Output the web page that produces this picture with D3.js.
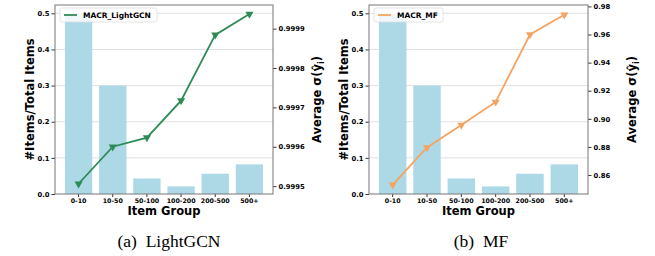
<!DOCTYPE html>
<html>
<head>
<meta charset="utf-8">
<script src="https://cdn.jsdelivr.net/npm/d3@7"></script>
<style>
  body { margin: 0; background: #fff; }
  text { font-family: "DejaVu Sans", sans-serif; }
  .tick text { font-weight: bold; font-size: 6.8px; fill: #000; }
  .xaxis .tick text { font-size: 6.3px; }
  .caption { font-family: "Liberation Serif", "DejaVu Serif", serif; font-size: 17.5px; }
</style>
</head>
<body>
<div id="chart"></div>
<script>
// Data
var groups = ["0-10", "10-50", "50-100", "100-200", "200-500", "500+"];
var itemShare = [0.498, 0.300, 0.043, 0.021, 0.056, 0.082];
var lightgcnScore = [0.999506, 0.999600, 0.999623, 0.999717, 0.999884, 0.999937];
var mfScore = [0.853, 0.8796, 0.8956, 0.912, 0.960, 0.974];
var shareTicks = [0.0, 0.1, 0.2, 0.3, 0.4, 0.5];
var lightgcnTicks = [0.9995, 0.9996, 0.9997, 0.9998, 0.9999];
var mfTicks = [0.86, 0.88, 0.90, 0.92, 0.94, 0.96, 0.98];

var svgWidth = 655;
var svgHeight = 256;

var svg = d3.select("#chart")
  .append("svg")
  .attr("width", svgWidth)
  .attr("height", svgHeight);

// one panel = bars on the left axis, line on the right axis
function drawPanel(opt) {
  var left = opt.left, right = opt.right, top = 5, bottom = 194;
  var g = svg.append("g");

  var x = d3.scaleBand()
    .domain(groups)
    .range([left, right])
    .paddingInner(0.2)
    .paddingOuter(0.29);

  var yShare = d3.scaleLinear().domain([0, 0.523]).range([bottom, top]);
  var yScore = d3.scaleLinear().domain(opt.scoreDomain).range([bottom, top]);

  // grid lines on the left ticks
  g.selectAll(".grid")
    .data(shareTicks.slice(1))
    .enter()
    .append("line")
    .attr("x1", left).attr("x2", right)
    .attr("y1", d => yShare(d)).attr("y2", d => yShare(d))
    .attr("stroke", "#d9d9d9")
    .attr("stroke-width", 0.8);

  // bars
  g.selectAll(".bar")
    .data(itemShare)
    .enter()
    .append("rect")
    .attr("x", (d, i) => x(groups[i]))
    .attr("y", d => yShare(d))
    .attr("width", x.bandwidth())
    .attr("height", d => bottom - yShare(d))
    .attr("fill", "#add8e6");

  // line + down triangles
  var line = d3.line()
    .x((d, i) => x(groups[i]) + x.bandwidth() / 2)
    .y(d => yScore(d));

  g.append("path")
    .datum(opt.score)
    .attr("d", line)
    .attr("fill", "none")
    .attr("stroke", opt.color)
    .attr("stroke-width", 1.8);

  g.selectAll(".mark")
    .data(opt.score)
    .enter()
    .append("path")
    .attr("d", d3.symbol().type(d3.symbolTriangle).size(28))
    .attr("transform", (d, i) => `translate(${x(groups[i]) + x.bandwidth() / 2}, ${yScore(d)}) rotate(180)`)
    .attr("fill", opt.color);

  // axes
  var xAxis = g.append("g")
    .attr("class", "xaxis")
    .attr("transform", `translate(0, ${bottom})`)
    .call(d3.axisBottom(x).tickSize(3).tickPadding(2));
  xAxis.select(".domain").remove();

  var lAxis = g.append("g")
    .attr("transform", `translate(${left}, 0)`)
    .call(d3.axisLeft(yShare).tickValues(shareTicks).tickFormat(d3.format(".1f")).tickSize(3.5).tickPadding(2));
  lAxis.select(".domain").remove();

  var rAxis = g.append("g")
    .attr("transform", `translate(${right}, 0)`)
    .call(d3.axisRight(yScore).tickValues(opt.ticks).tickFormat(d3.format(opt.fmt)).tickSize(3.5).tickPadding(2));
  rAxis.select(".domain").remove();

  g.selectAll(".tick line").attr("stroke", "#333");

  // frame
  g.append("rect")
    .attr("x", left).attr("y", top)
    .attr("width", right - left).attr("height", bottom - top)
    .attr("fill", "none")
    .attr("stroke", "#777")
    .attr("stroke-width", 1);

  // legend
  var lg = g.append("g").attr("transform", `translate(${left + 5}, 8)`);
  lg.append("rect")
    .attr("width", opt.legendWidth).attr("height", 14)
    .attr("rx", 2)
    .attr("fill", "#fff").attr("fill-opacity", 0.8)
    .attr("stroke", "#ddd").attr("stroke-width", 0.8);
  lg.append("line")
    .attr("x1", 4).attr("x2", 17).attr("y1", 7).attr("y2", 7)
    .attr("stroke", opt.color).attr("stroke-width", 1.8);
  lg.append("text")
    .attr("x", 23).attr("y", 9.8)
    .style("font-size", "7.5px").style("font-weight", "bold")
    .text(opt.name);

  // axis titles
  g.append("text")
    .attr("transform", `translate(${left - 21}, ${(top + bottom) / 2}) rotate(-90)`)
    .attr("text-anchor", "middle")
    .style("font-size", "11.5px").style("font-weight", "bold")
    .text("#Items/Total Items");

  var rt = g.append("text")
    .attr("transform", `translate(${right + 48}, ${(top + bottom) / 2}) rotate(-90)`)
    .attr("text-anchor", "middle")
    .style("font-size", "11.5px").style("font-weight", "bold");
  rt.append("tspan").text("Average σ(ŷ");
  rt.append("tspan").attr("dy", 2.5).style("font-size", "8px").text("i");
  rt.append("tspan").attr("dy", -2.5).text(")");

  g.append("text")
    .attr("x", (left + right) / 2).attr("y", 215)
    .attr("text-anchor", "middle")
    .style("font-size", "11.5px").style("font-weight", "bold")
    .text("Item Group");

  g.append("text")
    .attr("class", "caption")
    .attr("x", opt.captionX).attr("y", 247)
    .attr("text-anchor", "middle")
    .attr("xml:space", "preserve")
    .text(opt.caption);
}

drawPanel({
  left: 55, right: 273,
  score: lightgcnScore, scoreDomain: [0.99948, 0.99996],
  ticks: lightgcnTicks, fmt: ".4f",
  color: "#2e8b57", name: "MACR_LightGCN", legendWidth: 97,
  caption: "(a)  LightGCN", captionX: 169
});

drawPanel({
  left: 369, right: 588,
  score: mfScore, scoreDomain: [0.8465, 0.981],
  ticks: mfTicks, fmt: ".2f",
  color: "#f4a460", name: "MACR_MF", legendWidth: 69,
  caption: "(b)  MF", captionX: 481
});
</script>
</body>
</html>
